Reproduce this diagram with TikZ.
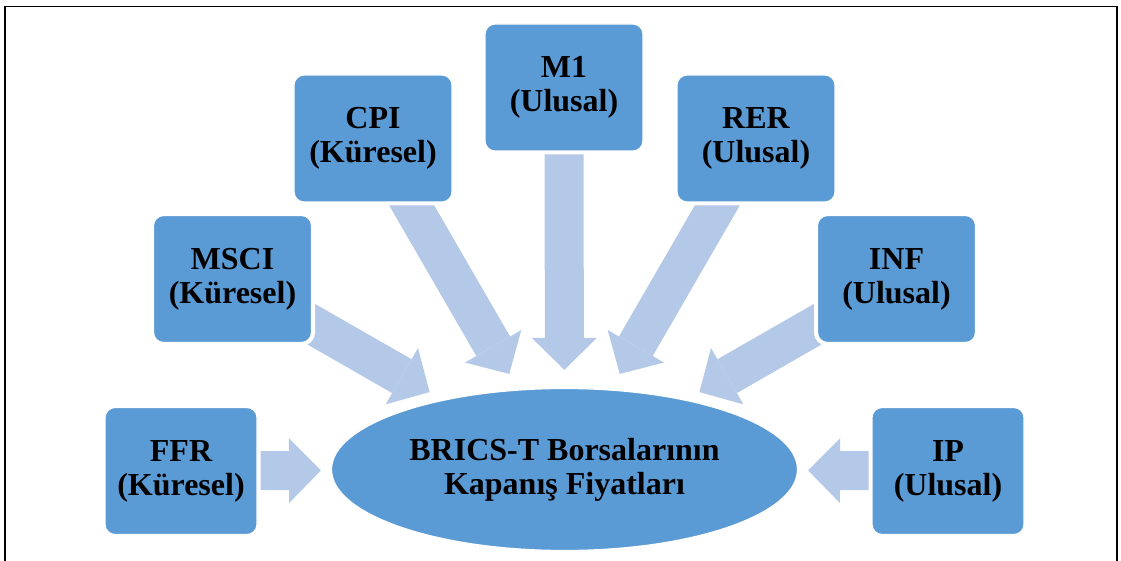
\documentclass[tikz,border=0pt]{standalone}
\usepackage{fontspec}
\setmainfont{Liberation Serif}
\usetikzlibrary{shapes.geometric,arrows.meta,backgrounds}
\definecolor{boxblue}{RGB}{91,155,213}
\definecolor{flowblue}{RGB}{180,200,231}
\begin{document}
\begin{tikzpicture}
  [x=1pt, y=-1pt,
   every node/.style={font=\fontsize{32}{34}\selectfont\bfseries, align=center},
   var/.style={rectangle, rounded corners=10pt, fill=boxblue, draw=white, line width=1.2pt,
     preaction={draw=white, line width=7pt}, minimum width=158pt, minimum height=127pt, inner sep=0pt},
   hub/.style={ellipse, fill=boxblue, draw=white, line width=1.2pt,
     minimum width=466pt, minimum height=162pt, inner sep=0pt},
   flow/.style={draw=flowblue, line width=39pt, -{Triangle[width=65pt, length=32pt, line width=0pt]}}]
	\useasboundingbox (0,0) rectangle (1121,561);
	\draw [line width=1.3pt] (5,561) -- (5,6.5) -- (1117,6.5) -- (1117,561);

	\node [hub, name=brics] at (564.5,469.5) {BRICS-T Borsalarının\\Kapanış Fiyatları};
	\node [var, name=ffr, minimum width=152pt] at (181,471) {FFR\\(Küresel)};
	\node [var, name=msci] at (232.5,279) {MSCI\\(Küresel)};
	\node [var, name=cpi] at (373,138.5) {CPI\\(Küresel)};
	\node [var, name=m1] at (564,87.5) {M1\\(Ulusal)};
	\node [var, name=rer] at (756,138.5) {RER\\(Ulusal)};
	\node [var, name=inf] at (896.5,279) {INF\\(Ulusal)};
	\node [var, name=ip, minimum width=152pt] at (948,471) {IP\\(Ulusal)};

	\begin{scope}[on background layer]
	\path (ffr.center) edge [flow, shorten >=10pt] (brics)
				(msci.center) edge [flow, shorten >=15.5pt] (brics)
				(cpi.center) edge [flow, shorten >=18pt] (brics)
				(m1.center) edge [flow, shorten >=18pt] (brics)
				(rer.center) edge [flow, shorten >=18pt] (brics)
				(inf.center) edge [flow, shorten >=15.5pt] (brics)
				(ip.center) edge [flow, shorten >=10pt] (brics);
	\end{scope}
\end{tikzpicture}
\end{document}
